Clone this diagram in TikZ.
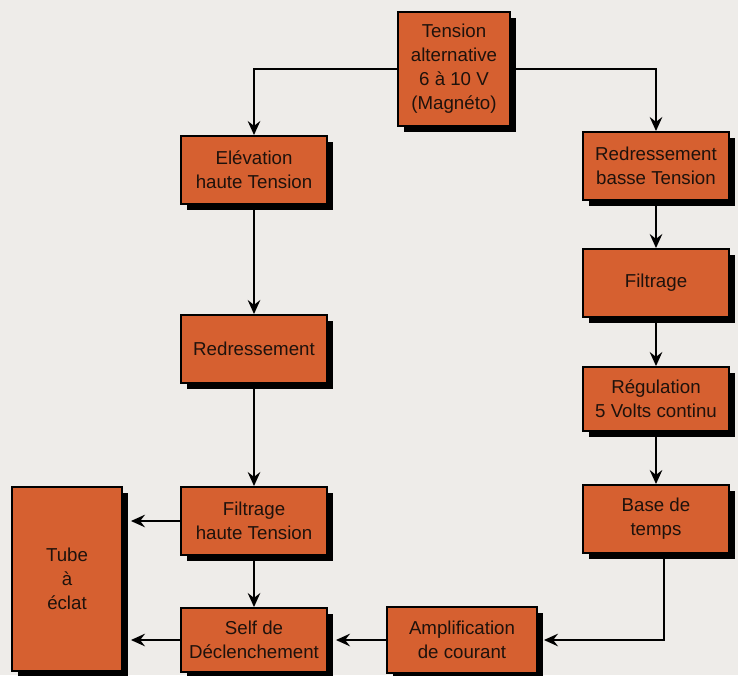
\documentclass[tikz,border=0pt]{standalone}
\usepackage{fontspec}
\setmainfont{Liberation Sans}
\usetikzlibrary{arrows.meta,shadows}
\definecolor{blocfill}{RGB}{214,96,48}
\definecolor{paper}{RGB}{238,236,233}
\definecolor{ink}{RGB}{30,18,12}
\begin{document}
\begin{tikzpicture}[
        bloc/.style={draw=black, line width=1.4pt, fill=blocfill, text=ink,
            font=\fontsize{13.3}{17}\selectfont, align=center,
            minimum width=3.65cm, minimum height=1.7cm, inner sep=2pt,
            drop shadow={shadow xshift=0.15cm, shadow yshift=-0.15cm, fill=black, opacity=1}},
        conn/.style={-{Stealth[length=10pt, width=9pt, inset=3.5pt]}, line width=1pt}
    ]
        % Page
        \fill[paper] (0, 0) rectangle (18.45, -16.875);
        \useasboundingbox (0, 0) rectangle (18.45, -16.875);

        % Blocks
        \node[bloc, minimum width=2.8cm, minimum height=2.85cm] (tension) at (11.35, -1.725)
            {Tension\\alternative\\6 à 10 V\\(Magnéto)};
        \node[bloc] (elev) at (6.35, -4.25) {Elévation\\haute Tension};
        \node[bloc] (redr) at (6.35, -8.725) {Redressement};
        \node[bloc] (filtht) at (6.35, -13.025) {Filtrage\\haute Tension};
        \node[bloc, minimum height=1.6cm] (self) at (6.35, -16.0) {Self de\\Déclenchement};
        \node[bloc, minimum width=2.75cm, minimum height=4.6cm] (tube) at (1.675, -14.475) {Tube\\à\\éclat};
        \node[bloc, minimum width=3.75cm, minimum height=1.65cm] (ampl) at (11.55, -16.0) {Amplification\\de courant};
        \node[bloc] (redbt) at (16.4, -4.15) {Redressement\\basse Tension};
        \node[bloc] (filt) at (16.4, -7.075) {Filtrage};
        \node[bloc, minimum height=1.6cm] (regul) at (16.4, -9.975) {Régulation\\5 Volts continu};
        \node[bloc] (base) at (16.4, -12.975) {Base de\\temps};

        % Connections
        \draw[conn] (tension.west) -| (elev);
        \draw[conn] (tension.east) -| (redbt);
        \draw[conn] (elev) -- (redr);
        \draw[conn] (redr) -- (filtht);
        \draw[conn] (filtht) -- (self);
        \draw[conn] (filtht.west) -- ([xshift=0.2cm]tube.east |- filtht.west);
        \draw[conn] (self.west) -- ([xshift=0.2cm]tube.east |- self.west);
        \draw[conn] (redbt) -- (filt);
        \draw[conn] (filt) -- (regul);
        \draw[conn] (regul) -- (base);
        \draw[conn] ([xshift=0.2cm]base.south) |- ([xshift=0.15cm]ampl.east);
        \draw[conn] (ampl.west) -- ([xshift=0.2cm]self.east);
    \end{tikzpicture}
\end{document}
